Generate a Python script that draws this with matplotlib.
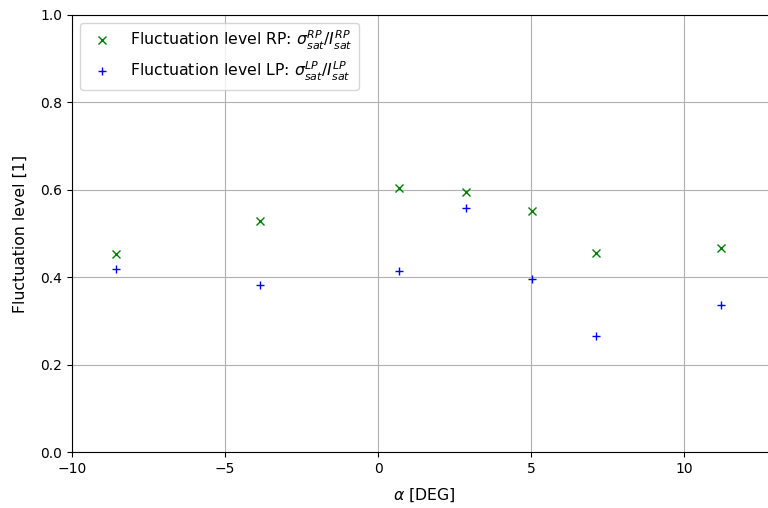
import matplotlib.pyplot as plt

# angle of attack and fluctuation levels
alpha = [-8.56, -3.86, 0.69, 2.88, 5.03, 7.12, 11.21]
fl_rp = [0.453, 0.529, 0.604, 0.595, 0.551, 0.455, 0.467]
fl_lp = [0.419, 0.382, 0.414, 0.558, 0.396, 0.265, 0.336]

fig = plt.figure(figsize=(7.68, 5.08), dpi=100)
# axes runs a little past the right edge like the cropped original
ax = fig.add_axes([72 / 768, 1 - 452 / 508, 704 / 768, 437 / 508])

ax.plot(alpha, fl_rp, 'gx', label=r'Fluctuation level RP: $\sigma_{sat}^{RP}/I_{sat}^{RP}$')
ax.plot(alpha, fl_lp, 'b+', label=r'Fluctuation level LP: $\sigma_{sat}^{LP}/I_{sat}^{LP}$')

ax.set_xlim(-10, 13)
ax.set_ylim(0, 1)
ax.set_xticks([-10, -5, 0, 5, 10])
ax.set_xlabel(r'$\alpha$ [DEG]', fontsize=11.3, labelpad=7.5)
ax.set_ylabel('Fluctuation level [1]', fontsize=11.3, labelpad=9)
ax.grid(True)
ax.legend(loc='upper left', fontsize=11.3)

fig.savefig('out.png', dpi=100)
